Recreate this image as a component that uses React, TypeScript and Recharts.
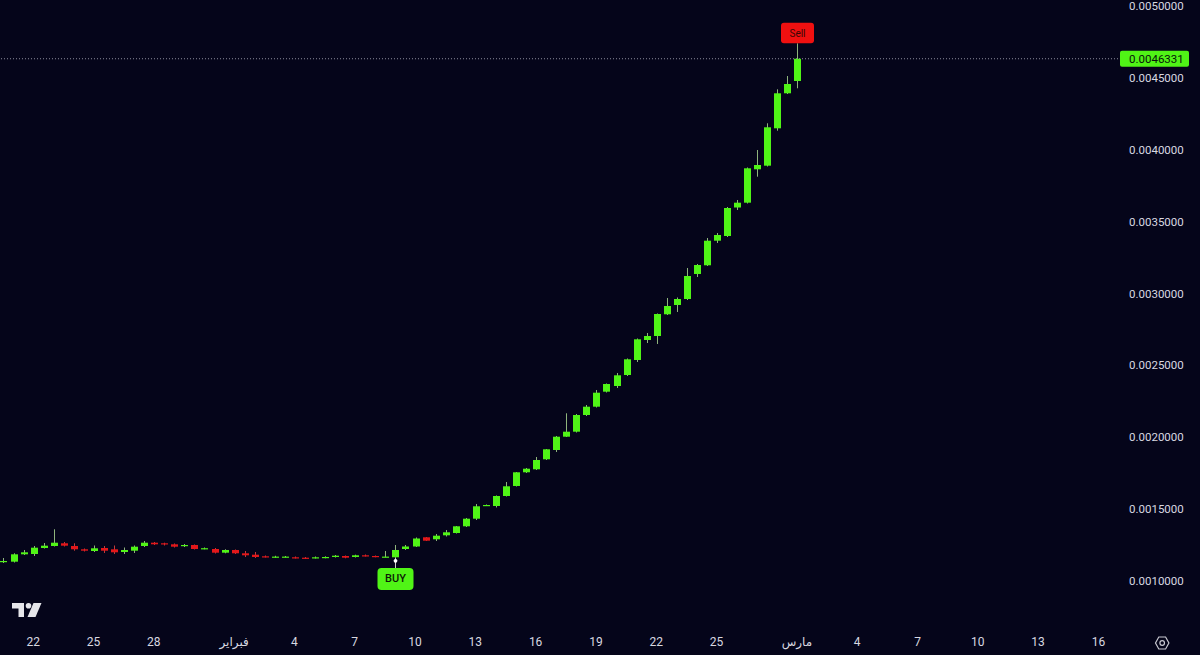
import React from "react";
import { ComposedChart, Bar, XAxis, YAxis, ReferenceLine } from "recharts";

// 12h candles, index 0 = Jan 20 12:00, index 79 = Mar 1 00:00
const OPEN = [
  0.0011322, 0.0011343, 0.0011857, 0.0011878, 0.0012296, 0.0012435, 0.0012623, 0.0012435, 0.0012205, 0.0012087,
  0.0012296, 0.0012205, 0.0012017, 0.0012108, 0.0012435, 0.0012664, 0.0012623, 0.0012553, 0.0012435, 0.0012504,
  0.0012254, 0.0012226, 0.0011969, 0.0012157, 0.0011927, 0.001183, 0.0011718, 0.001167, 0.001167, 0.0011649,
  0.0011621, 0.0011621, 0.0011628, 0.001167, 0.0011739, 0.001167, 0.0011788, 0.0011739, 0.001167, 0.0011649,
  0.0012226, 0.00124, 0.001304, 0.0012901, 0.0013179, 0.0013339, 0.0013805, 0.0014334, 0.0015238, 0.0015217,
  0.0015913, 0.0016609, 0.0017562, 0.001777, 0.0018466, 0.0019113, 0.0020038, 0.0020386, 0.0021548, 0.0022125,
  0.0023169, 0.0023565, 0.002433, 0.0025374, 0.0026765, 0.0027043, 0.0028553, 0.00292, 0.0029617, 0.0031357,
  0.0031962, 0.0033673, 0.0034, 0.0035982, 0.0036317, 0.003864, 0.0038891, 0.0041492, 0.0043927, 0.0044783,
];
const HIGH = [
  0.00116, 0.0011927, 0.0012157, 0.0012435, 0.0012643, 0.0013597, 0.0012713, 0.0012623, 0.0012261, 0.001247,
  0.0012435, 0.001247, 0.001233, 0.001247, 0.0012783, 0.0012713, 0.0012664, 0.0012609, 0.0012574, 0.0012539,
  0.001233, 0.0012296, 0.0012205, 0.0012191, 0.0012087, 0.0012017, 0.0011774, 0.0011753, 0.0011739, 0.0011704,
  0.001167, 0.0011704, 0.0011718, 0.0011809, 0.0011774, 0.001183, 0.0011843, 0.0011774, 0.0012087, 0.0012504,
  0.0012504, 0.0013026, 0.0013061, 0.001327, 0.0013548, 0.0013826, 0.0014383, 0.0015357, 0.0015322, 0.0015948,
  0.0016887, 0.0017583, 0.0017861, 0.0018626, 0.0019183, 0.0020087, 0.0021666, 0.0021617, 0.0022243, 0.0023287,
  0.0023739, 0.002447, 0.0025478, 0.002687, 0.0027252, 0.0028609, 0.0029687, 0.0029722, 0.0031774, 0.0032052,
  0.0033861, 0.0034209, 0.0036017, 0.0036504, 0.0038765, 0.0039983, 0.004184, 0.0044205, 0.004513, 0.0047405,
];
const LOW = [
  0.0011252, 0.0011287, 0.0011809, 0.0011739, 0.0012261, 0.00124, 0.00124, 0.0012108, 0.0012052, 0.0012017,
  0.0011948, 0.0011878, 0.0011878, 0.0011948, 0.0012365, 0.0012504, 0.001247, 0.001233, 0.0012365, 0.0012191,
  0.0012205, 0.0011913, 0.0011927, 0.0011878, 0.001167, 0.00116, 0.0011635, 0.0011614, 0.0011635, 0.0011565,
  0.001153, 0.0011565, 0.0011579, 0.0011635, 0.0011579, 0.0011635, 0.0011704, 0.0011649, 0.0011649, 0.00116,
  0.0012157, 0.0012365, 0.0012783, 0.0012783, 0.0013096, 0.0013304, 0.0013757, 0.0014243, 0.0015217, 0.0015113,
  0.0015878, 0.0016574, 0.0017513, 0.0017722, 0.0018417, 0.0018974, 0.0020017, 0.002033, 0.0021478, 0.002207,
  0.0023113, 0.0023426, 0.0024261, 0.0025235, 0.0026556, 0.0026487, 0.0028504, 0.0028713, 0.0029548, 0.0031148,
  0.0031913, 0.0033513, 0.003393, 0.0035809, 0.0036261, 0.0038125, 0.0038835, 0.0041325, 0.0043878, 0.0044275,
];
const CLOSE = [
  0.0011391, 0.0011857, 0.0011996, 0.0012317, 0.0012456, 0.0012664, 0.0012456, 0.0012205, 0.0012108, 0.0012275,
  0.0012108, 0.0011996, 0.0012157, 0.0012386, 0.0012664, 0.0012553, 0.0012553, 0.0012386, 0.0012504, 0.0012226,
  0.0012282, 0.0011969, 0.0012157, 0.0011927, 0.0011788, 0.001167, 0.0011684, 0.0011697, 0.0011697, 0.00116,
  0.0011579, 0.0011649, 0.001167, 0.001176, 0.0011621, 0.0011788, 0.0011739, 0.001169, 0.0011697, 0.0012157,
  0.00124, 0.0012957, 0.0012803, 0.0013151, 0.0013388, 0.0013805, 0.0014334, 0.0015197, 0.0015287, 0.0015913,
  0.0016588, 0.0017562, 0.0017812, 0.0018417, 0.0019162, 0.0020038, 0.0020386, 0.0021548, 0.0022125, 0.0023099,
  0.0023704, 0.0024309, 0.0025423, 0.0026814, 0.0027043, 0.0028574, 0.002913, 0.0029617, 0.0031217, 0.0031983,
  0.0033673, 0.0034069, 0.0035948, 0.0036317, 0.003871, 0.0038939, 0.0041562, 0.0043927, 0.0044574, 0.0046331,
];

const BUY_INDEX = 39;
const SELL_INDEX = 79;

// tick positions in candle index units (2 per day)
const X_TICKS = [3, 9, 15, 23, 29, 35, 41, 47, 53, 59, 65, 71, 79, 85, 91, 97, 103, 109];
const X_LABELS = ["22", "25", "28", "فبراير", "4", "7", "10", "13", "16", "19", "22", "25", "مارس", "4", "7", "10", "13", "16"];
const Y_TICKS = [0.001, 0.0015, 0.002, 0.0025, 0.003, 0.0035, 0.004, 0.0045, 0.005];

const LAST_PRICE = CLOSE[CLOSE.length - 1];

const BG = "#05051a";
const UP = "#50f416";
const DOWN = "#e3171a";
const UP_WICK = "#8fb47c";
const DOWN_WICK = "#c23a3a";
const TEXT = "#d8d8e0";
const FONT = "Roboto, 'DejaVu Sans', sans-serif";

const data = OPEN.map((o, i) => ({
  t: i,
  open: o,
  high: HIGH[i],
  low: LOW[i],
  close: CLOSE[i],
  signal: i === BUY_INDEX ? "BUY" : i === SELL_INDEX ? "Sell" : "",
}));

function Candle(props: any) {
  const { x, y, width, height, payload } = props;
  if (!payload || x == null || y == null) return null;
  const { open, close, high, low, signal } = payload;
  const top = Math.min(y, y + height);
  const span = Math.abs(height);
  const k = high > low ? span / (high - low) : 0;
  const py = (v: number) => top + (high - v) * k;
  const cx = Math.round(x + width / 2) + 0.5;
  const up = close >= open;
  const bTop = py(Math.max(open, close));
  const bh = Math.max(1.2, py(Math.min(open, close)) - bTop);
  const hiY = py(high);
  const loY = py(low);

  return (
    <g>
      <line x1={cx} x2={cx} y1={hiY} y2={loY} stroke={up ? UP_WICK : DOWN_WICK} strokeWidth={1} />
      <rect x={cx - 3.5} y={bTop} width={7} height={bh} fill={up ? UP : DOWN} />
      {signal === "BUY" && (
        <g>
          <line x1={cx} x2={cx} y1={loY} y2={loY + 10} stroke="#cfcfcf" strokeWidth={1} />
          <circle cx={cx} cy={loY + 2.8} r={1.9} fill="#ffffff" />
          <rect x={cx - 18} y={loY + 10} width={36} height={22} rx={4} fill={UP} />
          <text x={cx} y={loY + 21} textAnchor="middle" dominantBaseline="central" fontSize={11} fontFamily={FONT} fontWeight={500} fill="#0c1a06">
            BUY
          </text>
        </g>
      )}
      {signal === "Sell" && (
        <g>
          <rect x={cx - 16.5} y={hiY - 20.5} width={33} height={20.5} rx={3} fill="#f01010" />
          <text x={cx} y={hiY - 10.2} textAnchor="middle" dominantBaseline="central" fontSize={10} fontFamily={FONT} fill="#3a0606">
            Sell
          </text>
        </g>
      )}
    </g>
  );
}

function LastPriceTag(props: any) {
  const vb = props.viewBox || {};
  const right = (vb.x ?? 0) + (vb.width ?? 1118);
  const y = vb.y ?? 59;
  return (
    <g>
      <rect x={right + 2} y={y - 8} width={69} height={16} rx={2} fill={UP} />
      <text x={right + 11} y={y} dominantBaseline="central" fontSize={11.5} fontFamily={FONT} fill="#07140a">
        {LAST_PRICE.toFixed(7)}
      </text>
    </g>
  );
}

export default function App() {
  return (
    <div style={{ position: "absolute", left: 0, top: 0, width: 1200, height: 655, background: BG, overflow: "hidden" }}>
      <ComposedChart width={1200} height={655} data={data} margin={{ top: 0, right: 0, bottom: 0, left: 0 }}>
        <XAxis
          dataKey="t"
          type="number"
          domain={[-0.3, 110.95]}
          allowDataOverflow
          ticks={X_TICKS}
          interval={0}
          tickFormatter={(v: number) => X_LABELS[X_TICKS.indexOf(v)] ?? ""}
          axisLine={false}
          tickLine={false}
          tickSize={0}
          tickMargin={9}
          height={27}
          tick={{ fill: TEXT, fontSize: 12, fontFamily: FONT }}
        />
        <YAxis
          orientation="right"
          type="number"
          domain={[0.000673, 0.0050417]}
          allowDataOverflow
          ticks={Y_TICKS}
          interval={0}
          tickFormatter={(v: number) => v.toFixed(7)}
          axisLine={false}
          tickLine={false}
          tickSize={0}
          tickMargin={11}
          width={82}
          tick={{ fill: TEXT, fontSize: 11.5, fontFamily: FONT }}
        />
        <ReferenceLine y={LAST_PRICE} stroke="#8b8b9b" strokeDasharray="1 2" label={<LastPriceTag />} />
        <Bar
          dataKey={(d: any) => [d.low, d.high]}
          barSize={7}
          shape={<Candle />}
          isAnimationActive={false}
        />
      </ComposedChart>
      <svg width={1200} height={655} style={{ position: "absolute", left: 0, top: 0, pointerEvents: "none" }}>
        {/* tradingview mark */}
        <g fill="#e6e6ea">
          <path d="M12 603 H24 V617 H18.5 V608.5 H12 Z" />
          <circle cx={28.5} cy={605.8} r={2.8} />
          <path d="M33.5 603 H41.5 L35.5 617 H27.5 Z" />
        </g>
        {/* settings hexagon */}
        <g fill="none" stroke="#c8c8d0" strokeWidth={1.2}>
          <path d="M1155.5 643 L1158.8 637 H1165.6 L1168.9 643 L1165.6 649 H1158.8 Z" />
          <circle cx={1162.2} cy={643} r={2.3} />
        </g>
      </svg>
    </div>
  );
}
